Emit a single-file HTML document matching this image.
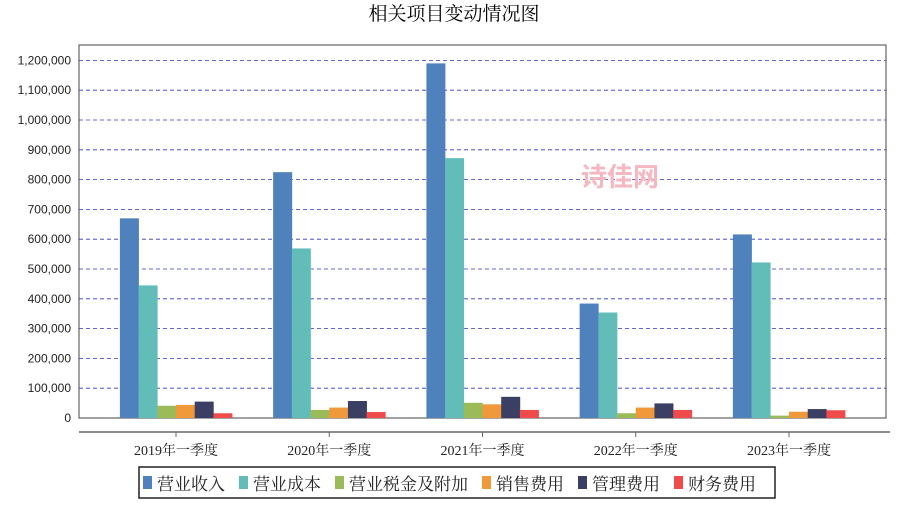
<!DOCTYPE html>
<html><head><meta charset="utf-8"><style>
body{margin:0;background:#fff;font-family:"Liberation Sans","Noto Sans CJK SC",sans-serif;}
svg text{font-family:"Liberation Serif","Noto Serif CJK SC","Noto Sans CJK SC",serif;}
svg text.sans{font-family:"Liberation Sans","Noto Sans CJK SC",sans-serif;}
</style></head><body>
<svg id="chart" width="909" height="500" xmlns="http://www.w3.org/2000/svg">
<text x="454" y="20" text-anchor="middle" font-size="19" fill="#000">相关项目变动情况图</text>
<rect x="79" y="45" width="807" height="373" fill="none" stroke="#444" stroke-width="1"/>
<g id="grid"></g>
<text x="620" y="186" text-anchor="middle" font-size="26" font-weight="bold" fill="#f6b8c0" class="sans">诗佳网</text>
<g id="bars"></g><g id="yticks"></g><g id="xaxis"></g>
<rect x="139" y="467" width="636" height="31" fill="#fff" stroke="#222" stroke-width="1.5"/>
<g id="legend"></g>
</svg>
<script>
const categories=["2019年一季度","2020年一季度","2021年一季度","2022年一季度","2023年一季度"];
const seriesNames=["营业收入","营业成本","营业税金及附加","销售费用","管理费用","财务费用"];
const colors=["#4f81bd","#62bdb9","#9bbb59","#f0993b","#3b3f64","#f04b4b"];
const revenue=[670000,825000,1190000,384000,616000];
const cost=[445000,569000,872000,354000,522000];
const tax=[41000,27000,51000,16000,8000];
const sales=[44000,35000,46000,35000,21000];
const admin=[55000,57000,71000,49000,30000];
const finance=[16000,20000,27000,27000,26000];
const series=[revenue,cost,tax,sales,admin,finance];
const yTicks=[0,100000,200000,300000,400000,500000,600000,700000,800000,900000,1000000,1100000,1200000];
const NS="http://www.w3.org/2000/svg";
const y0=418,pxPer=29.8/100000;
const yS=v=>y0-v*pxPer;
const xC=i=>176+153.25*i;
const bw=18.7;
function mk(t,a,p){const e=document.createElementNS(NS,t);for(const k in a)e.setAttribute(k,a[k]);p.appendChild(e);return e;}
const grid=document.getElementById('grid'),yt=document.getElementById('yticks');
yTicks.forEach(v=>{
 if(v>0){const l=mk('line',{x1:79,x2:886,y1:yS(v),y2:yS(v),stroke:'#3333cc','stroke-dasharray':'4,3','stroke-width':0.8},grid);
 
 }
 const t=mk('text',{x:71,y:yS(v)+4,'text-anchor':'end','font-size':12,fill:'#222','class':'sans'},yt);
 t.textContent=v.toLocaleString('en-US');
 
 
});
const bars=document.getElementById('bars');
categories.forEach((c,i)=>{
 series.forEach((s,j)=>{
  const x=xC(i)-3*bw+j*bw;
  const r=mk('rect',{x:x,y:yS(s[i]),width:bw+0.3,height:s[i]*pxPer,fill:colors[j]},bars);
  
  
 });
});
const xa=document.getElementById('xaxis');
mk('line',{x1:79,x2:890,y1:432,y2:432,stroke:'#666','stroke-width':1.5},xa);
categories.forEach((c,i)=>{
 mk('line',{x1:xC(i),x2:xC(i),y1:432,y2:437,stroke:'#666'},xa);
 const t=mk('text',{x:xC(i),y:455,'text-anchor':'middle','font-size':14,fill:'#222'},xa);
 t.textContent=c;
 
 
});
const lg=document.getElementById('legend');
let lx=143;
seriesNames.forEach((n,j)=>{
 const r=mk('rect',{x:lx,y:476,width:9,height:13,fill:colors[j]},lg);
 
 
 const t=mk('text',{x:lx+14,y:490,'font-size':17,fill:'#222',textLength:n.length*17,lengthAdjust:'spacingAndGlyphs'},lg);
 t.textContent=n;
 
 
 lx+=14+n.length*17+14;
});
</script>
</body></html>
